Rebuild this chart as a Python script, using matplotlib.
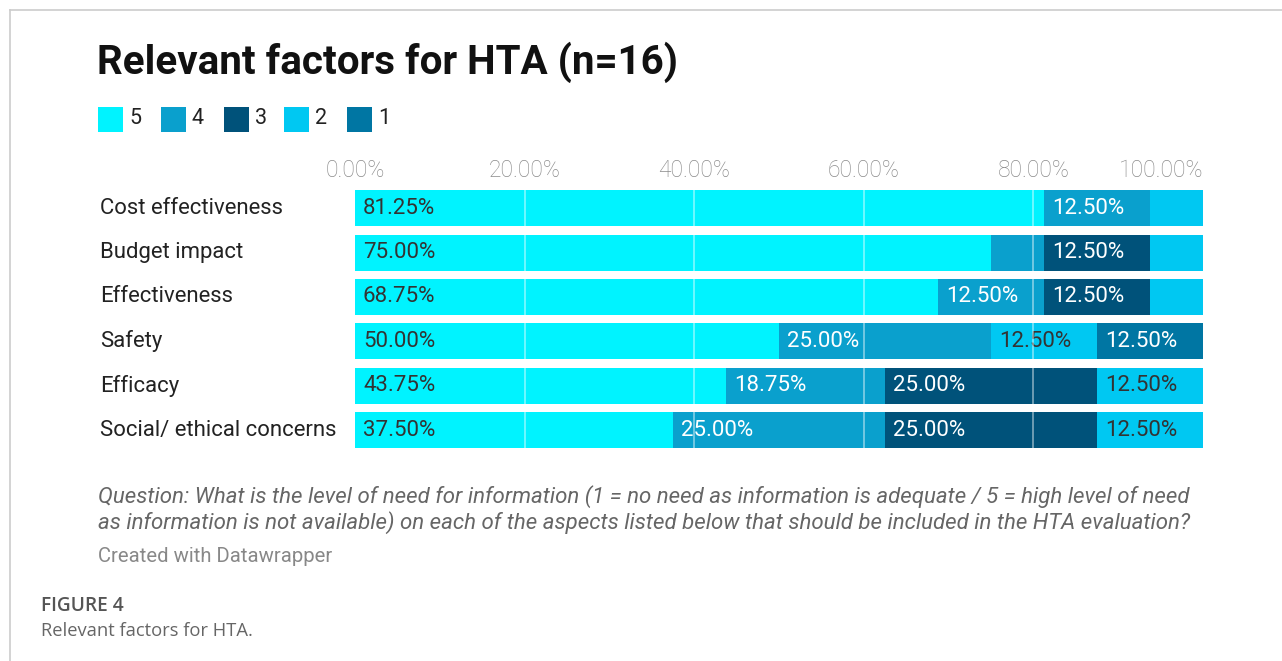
import matplotlib
matplotlib.use("Agg")
import matplotlib.pyplot as plt
from matplotlib.patches import Rectangle
from matplotlib.lines import Line2D
import numpy as np

categories = ["Cost effectiveness", "Budget impact", "Effectiveness", "Safety",
              "Efficacy", "Social/ ethical concerns"]
levels = ["5", "4", "3", "2", "1"]
s5 = [81.25, 75.00, 68.75, 50.00, 43.75, 37.50]
s4 = [12.50, 6.25, 12.50, 25.00, 18.75, 25.00]
s3 = [0.00, 12.50, 12.50, 0.00, 25.00, 25.00]
s2 = [6.25, 6.25, 6.25, 12.50, 12.50, 12.50]
s1 = [0.00, 0.00, 0.00, 12.50, 0.00, 0.00]
series = [s5, s4, s3, s2, s1]
xticks = [0, 20, 40, 60, 80, 100]

colors = ["#00f3ff", "#0aa0cd", "#00527a", "#00c8f2", "#0076a3"]
text_colors = ["#333333", "#ffffff", "#ffffff", "#333333", "#ffffff"]

W, H = 1282, 661
fig = plt.figure(figsize=(W / 100, H / 100), dpi=100)
fig.patch.set_facecolor("white")

def fx(px):
    return px / W

def fy(py):
    return 1 - py / H

ax_left, ax_right = 355, 1203
ax_top, ax_bot = 186.0, 452.4
ax = fig.add_axes([fx(ax_left), fy(ax_bot), fx(ax_right - ax_left), (ax_bot - ax_top) / H])

y = np.arange(len(categories))
left = np.zeros(len(categories))
for vals, col, tcol in zip(series, colors, text_colors):
    vals = np.array(vals)
    ax.barh(y, vals, left=left, height=0.81, color=col, edgecolor="none", zorder=1)
    for yi, (l, v) in enumerate(zip(left, vals)):
        if v >= 10:
            ax.annotate(f"{v:.2f}%", xy=(l, yi), xytext=(8, 0), textcoords="offset pixels",
                        ha="left", va="center", fontsize=16, color=tcol,
                        family="Roboto", zorder=3)
    left = left + vals

for xt in xticks[1:-1]:
    ax.axvline(xt, color="white", alpha=0.5, lw=1.2, zorder=4)

ax.set_xlim(0, 100)
ax.set_ylim(len(categories) - 0.5, -0.5)
ax.xaxis.tick_top()
ax.set_xticks(xticks)
ax.set_xticklabels([f"{t:.2f}%" for t in xticks], family="Roboto", fontweight="light",
                   fontsize=16.5, color="#8a8a8a")
labs = ax.get_xticklabels()
labs[-1].set_horizontalalignment("right")
ax.tick_params(axis="x", length=0, pad=3)
ax.set_yticks([])
for sp in ax.spines.values():
    sp.set_visible(False)

for yi, cat in enumerate(categories):
    ax.annotate(cat, xy=(0, yi), xycoords=("axes fraction", "data"),
                xytext=(fx(100), 0), textcoords=("figure fraction", "offset points"),
                ha="left", va="center", fontsize=15.9, color="#222222", family="Roboto")

# Title
fig.text(fx(97), fy(62), "Relevant factors for HTA (n=16)", fontsize=29.1, fontweight="bold",
         family="Roboto", color="#111111", va="center", ha="left")

# Legend
sq_x = [98, 161, 224, 284, 347]
for lx, lab, col in zip(sq_x, levels, colors):
    fig.add_artist(Rectangle((fx(lx), fy(132)), fx(25), 25 / H, transform=fig.transFigure,
                             facecolor=col, edgecolor="none"))
    fig.text(fx(lx + 31), fy(119), lab, fontsize=15.5, family="Roboto", color="#222222",
             va="center", ha="left")

# Notes
fig.text(fx(98), fy(497), "Question: What is the level of need for information (1 = no need as information is adequate / 5 = high level of need",
         fontsize=16.05, style="italic", family="Roboto", color="#666666", va="center", ha="left")
fig.text(fx(98), fy(523), "as information is not available) on each of the aspects listed below that should be included in the HTA evaluation?",
         fontsize=16.05, style="italic", family="Roboto", color="#666666", va="center", ha="left")
fig.text(fx(98), fy(557), "Created with Datawrapper", fontsize=14.6, family="Roboto",
         color="#888888", va="center", ha="left")

# Figure caption
fig.text(fx(41), fy(606), "FIGURE 4", fontsize=13.8, family="Open Sans", fontweight="semibold",
         color="#555555", va="center", ha="left")
fig.text(fx(41), fy(631), "Relevant factors for HTA.", fontsize=13.25, family="Open Sans",
         color="#666666", va="center", ha="left")

# Frame lines
fig.add_artist(Line2D([fx(9.5), 1], [fy(9.5), fy(9.5)], transform=fig.transFigure,
                      color="#cccccc", lw=1.2))
fig.add_artist(Line2D([fx(9.5), fx(9.5)], [fy(9.5), 0], transform=fig.transFigure,
                      color="#cccccc", lw=1.2))

fig.savefig("out.png", dpi=100, facecolor="white")
